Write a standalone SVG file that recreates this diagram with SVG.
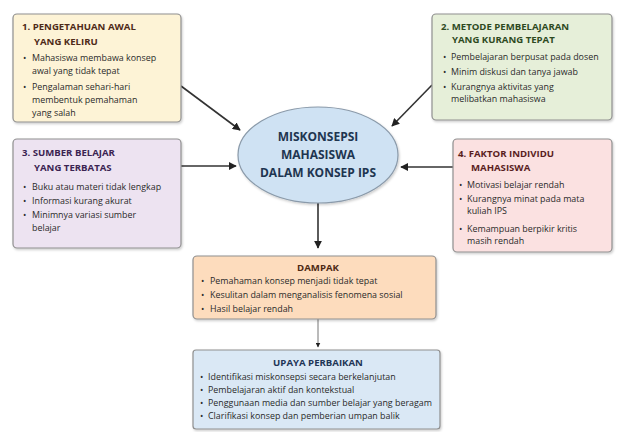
<svg xmlns="http://www.w3.org/2000/svg" width="623" height="432" viewBox="0 0 623 432">
<style>
.box{stroke:#8f8f8f;stroke-width:1.2}
.t{font-family:"Open Sans","Liberation Sans",sans-serif;font-weight:700;font-size:9.6px}
.b{font-family:"Open Sans","Liberation Sans",sans-serif;font-size:8.9px;fill:#2a2a2a}
.c{font-family:"Open Sans","Liberation Sans",sans-serif;font-weight:700;font-size:12px;fill:#1e3550;text-anchor:middle}
.con{stroke:#333;stroke-width:1.6;fill:none}
</style>
<defs>
<marker id="ah" viewBox="0 0 10 10" refX="9" refY="5" markerWidth="5" markerHeight="5" orient="auto"><path d="M0,0L10,5L0,10z" fill="#222"/></marker>
<filter id="sh" x="-5%" y="-5%" width="110%" height="115%"><feDropShadow dx="1" dy="1.5" stdDeviation="1" flood-color="#000" flood-opacity="0.2"/></filter>
</defs>
<rect width="623" height="432" fill="#fff"/>
<g id="connectors">
<line class="con" x1="181" y1="86" x2="240" y2="130" marker-end="url(#ah)"/>
<line class="con" x1="432" y1="85" x2="392" y2="126" marker-end="url(#ah)"/>
<line class="con" x1="181" y1="166" x2="236" y2="166" marker-end="url(#ah)"/>
<line class="con" x1="453" y1="167" x2="401" y2="167" marker-end="url(#ah)"/>
<line class="con" x1="318" y1="203" x2="318" y2="248" marker-end="url(#ah)"/>
<line x1="318" y1="319" x2="318" y2="347" stroke="#777" stroke-width="1" marker-end="url(#ah)"/>
</g>
<g id="n1">
<rect class="box" x="13" y="14" width="168" height="108" rx="4" fill="#fdf3d6" filter="url(#sh)"/>
<text class="t" fill="#4e2a18" x="22" y="30">1. PENGETAHUAN AWAL</text>
<text class="t" fill="#4e2a18" x="34" y="45">YANG KELIRU</text>
<text class="b" x="23" y="61">•</text><text class="b" x="32" y="61">Mahasiswa membawa konsep</text>
<text class="b" x="32" y="74">awal yang tidak tepat</text>
<text class="b" x="23" y="90">•</text><text class="b" x="32" y="90">Pengalaman sehari-hari</text>
<text class="b" x="32" y="103">membentuk pemahaman</text>
<text class="b" x="32" y="116">yang salah</text>
</g>
<g id="n2">
<rect class="box" x="432" y="14" width="180" height="106" rx="4" fill="#e6efd9" filter="url(#sh)"/>
<text class="t" fill="#2e4a1f" x="441" y="30">2. METODE PEMBELAJARAN</text>
<text class="t" fill="#2e4a1f" x="452" y="43">YANG KURANG TEPAT</text>
<text class="b" x="443" y="60">•</text><text class="b" x="451" y="60">Pembelajaran berpusat pada dosen</text>
<text class="b" x="443" y="75">•</text><text class="b" x="451" y="75">Minim diskusi dan tanya jawab</text>
<text class="b" x="443" y="90">•</text><text class="b" x="451" y="90">Kurangnya aktivitas yang</text>
<text class="b" x="451" y="102">melibatkan mahasiswa</text>
</g>
<g id="n3">
<rect class="box" x="13" y="139" width="168" height="109" rx="4" fill="#ede3f1" filter="url(#sh)"/>
<text class="t" fill="#3b2352" x="22" y="156">3. SUMBER BELAJAR</text>
<text class="t" fill="#3b2352" x="34" y="171">YANG TERBATAS</text>
<text class="b" x="23" y="190">•</text><text class="b" x="32" y="190">Buku atau materi tidak lengkap</text>
<text class="b" x="23" y="204">•</text><text class="b" x="32" y="204">Informasi kurang akurat</text>
<text class="b" x="23" y="218">•</text><text class="b" x="32" y="218">Minimnya variasi sumber</text>
<text class="b" x="32" y="231">belajar</text>
</g>
<g id="n4">
<rect class="box" x="453" y="139" width="159" height="113" rx="4" fill="#fbe1e1" filter="url(#sh)"/>
<text class="t" fill="#5a1e1e" x="458" y="157">4. FAKTOR INDIVIDU</text>
<text class="t" fill="#5a1e1e" x="471" y="171">MAHASISWA</text>
<text class="b" x="459" y="188">•</text><text class="b" x="467" y="188">Motivasi belajar rendah</text>
<text class="b" x="459" y="202">•</text><text class="b" x="467" y="202">Kurangnya minat pada mata</text>
<text class="b" x="467" y="214">kuliah IPS</text>
<text class="b" x="459" y="232">•</text><text class="b" x="467" y="232">Kemampuan berpikir kritis</text>
<text class="b" x="467" y="244">masih rendah</text>
</g>
<g id="center">
<ellipse cx="318" cy="155" rx="80" ry="48" fill="#cfe2f3" stroke="#8a9aaa" stroke-width="1.2" filter="url(#sh)"/>
<text class="c" x="318" y="141">MISKONSEPSI</text>
<text class="c" x="318" y="159">MAHASISWA</text>
<text class="c" x="318" y="177">DALAM KONSEP IPS</text>
</g>
<g id="dampak">
<rect class="box" x="193" y="256" width="243" height="63" rx="4" fill="#fddcbd" filter="url(#sh)"/>
<text class="t" fill="#4e2a14" x="318" y="271" text-anchor="middle" font-size="11px">DAMPAK</text>
<text class="b" x="201" y="284">•</text><text class="b" x="210" y="284">Pemahaman konsep menjadi tidak tepat</text>
<text class="b" x="201" y="298">•</text><text class="b" x="210" y="298">Kesulitan dalam menganalisis fenomena sosial</text>
<text class="b" x="201" y="312">•</text><text class="b" x="210" y="312">Hasil belajar rendah</text>
</g>
<g id="upaya">
<rect class="box" x="193" y="350" width="247" height="79" rx="3" fill="#dae8f5" filter="url(#sh)"/>
<text class="t" fill="#1e3556" x="318" y="366" text-anchor="middle" font-size="11px">UPAYA PERBAIKAN</text>
<text class="b" x="200" y="380">•</text><text class="b" x="208" y="380">Identifikasi miskonsepsi secara berkelanjutan</text>
<text class="b" x="200" y="393">•</text><text class="b" x="208" y="393">Pembelajaran aktif dan kontekstual</text>
<text class="b" x="200" y="406">•</text><text class="b" x="208" y="406">Penggunaan media dan sumber belajar yang beragam</text>
<text class="b" x="200" y="419">•</text><text class="b" x="208" y="419">Clarifikasi konsep dan pemberian umpan balik</text>
</g>
</svg>
